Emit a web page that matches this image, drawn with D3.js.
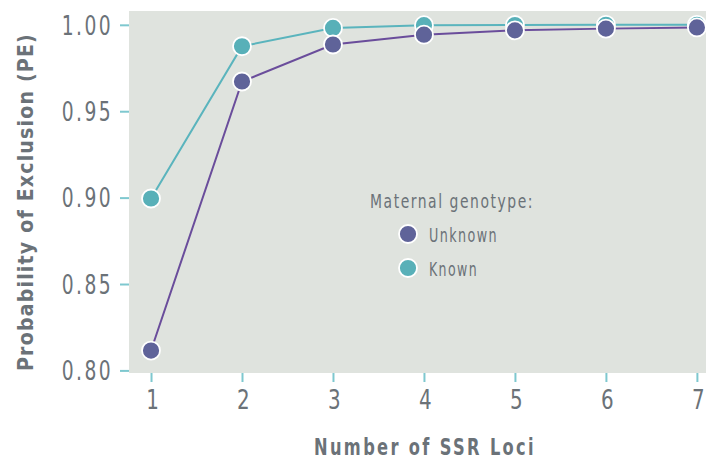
<!DOCTYPE html>
<html><head><meta charset="utf-8">
<script src="https://cdn.jsdelivr.net/npm/d3@7"></script>
<style>
body{margin:0;background:#fff;}
svg{display:block;}
text{font-family:"DejaVu Sans Condensed","DejaVu Sans",sans-serif;font-stretch:condensed;}
</style></head>
<body><svg id="c" width="706" height="462"></svg>
<script>
const loci = [1,2,3,4,5,6,7];
const unknownPE = [0.8115,0.9672,0.9886,0.9943,0.9968,0.9978,0.9985];
const knownPE = [0.8995,0.9876,0.9982,0.9998,0.9999,1.0,1.0];
const yTicks = [0.80,0.85,0.90,0.95,1.00];
const seriesNames = ["Unknown","Known"];

const svg = d3.select("#c");
const L=129,R=706,T=11,B=373;
const x = d3.scaleLinear().domain([0.758,7.1]).range([L,R]);
const y = d3.scaleLinear().domain([0.7985,1.008]).range([B,T]);

svg.append("rect").attr("x",L).attr("y",T).attr("width",R-L).attr("height",B-T).attr("fill","#dfe3de");

const tickCol="#7ec8cf", labCol="#6b7278";
const yAxis = svg.append("g").attr("transform",`translate(${L},0)`)
  .call(d3.axisLeft(y).tickValues(yTicks).tickFormat(d3.format(".2f")).tickSize(9).tickPadding(7));
const xAxis = svg.append("g").attr("transform",`translate(0,${B})`)
  .call(d3.axisBottom(x).tickValues(loci).tickFormat(d3.format("d")).tickSize(9).tickPadding(9));
[yAxis,xAxis].forEach(a=>{
  a.select(".domain").remove();
  a.selectAll(".tick line").attr("stroke",tickCol).attr("stroke-width",2);
  a.selectAll(".tick text").attr("fill",labCol).attr("font-size",26).attr("letter-spacing",3)
    .attr("font-family",null);
});
yAxis.selectAll(".tick text").attr("dy","0.36em").attr("x",0)
  .attr("transform","translate(-16,0) scale(0.8,1)");
xAxis.selectAll(".tick text").attr("transform","scale(0.85,1)")
  .attr("dx","0.1em");

const series=[
  {name:seriesNames[0],vals:unknownPE,line:"#6a4d9b",fill:"#5f6399"},
  {name:seriesNames[1],vals:knownPE,line:"#5ab4bd",fill:"#58b0b8"}
];
const line=d3.line().x((d,i)=>x(loci[i])).y(d=>y(d));
[series[1],series[0]].forEach(s=>{
  svg.append("path").attr("d",line(s.vals)).attr("fill","none").attr("stroke",s.line).attr("stroke-width",2);
});
[series[1],series[0]].forEach(s=>{
  svg.append("g").selectAll("circle").data(s.vals).join("circle")
    .attr("cx",(d,i)=>x(loci[i])).attr("cy",d=>y(d)).attr("r",9)
    .attr("fill",s.fill).attr("stroke","#fff").attr("stroke-width",1.8);
});

const lg=svg.append("g");
lg.append("text").attr("x",370).attr("y",208).text("Maternal genotype:")
  .attr("fill",labCol).attr("font-size",20).attr("letter-spacing",2)
  .attr("textLength",164).attr("lengthAdjust","spacingAndGlyphs");
const legLens=[69,49];
series.forEach((s,i)=>{
  const cy=234+i*34;
  lg.append("circle").attr("cx",408).attr("cy",cy).attr("r",9).attr("fill",s.fill).attr("stroke","#fff").attr("stroke-width",1.8);
  lg.append("text").attr("x",429).attr("y",cy+8).text(s.name).attr("fill",labCol).attr("font-size",20).attr("letter-spacing",2)
    .attr("textLength",legLens[i]).attr("lengthAdjust","spacingAndGlyphs");
});

svg.append("text").attr("x",425).attr("y",455).attr("text-anchor","middle")
  .text("Number of SSR Loci").attr("fill",labCol).attr("font-size",23).attr("font-weight","bold").attr("letter-spacing",3)
  .attr("textLength",222).attr("lengthAdjust","spacingAndGlyphs");
svg.append("text").attr("transform","translate(33,202) rotate(-90)").attr("text-anchor","middle")
  .text("Probability of Exclusion (PE)").attr("fill",labCol).attr("font-size",21).attr("font-weight","bold").attr("letter-spacing",1.2)
  .attr("textLength",338).attr("lengthAdjust","spacingAndGlyphs");
</script></body></html>
